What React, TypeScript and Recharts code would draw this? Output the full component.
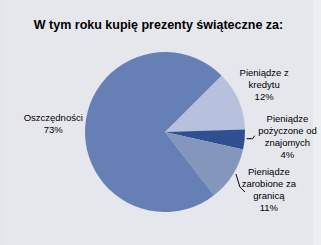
import React from 'react';
import { PieChart, Pie, Cell } from 'recharts';

// Źródła pieniędzy na prezenty (%), kolejność zgodnie z ruchem wskazówek zegara
const names = ['Pieniądze z kredytu', 'Pieniądze pożyczone od znajomych', 'Pieniądze zarobione za granicą', 'Oszczędności'];
const values = [12, 4, 11, 73];
const labelLines = [
  ['Pieniądze z', 'kredytu'],
  ['Pieniądze', 'pożyczone od', 'znajomych'],
  ['Pieniądze', 'zarobione za', 'granicą'],
  ['Oszczędności'],
];
const colors = ['#b7c1dd', '#2f4f91', '#8596bc', '#6680b5'];

const data = names.map((name, i) => ({ name, value: values[i], lines: labelLines[i] }));

// odległość etykiety od środka koła i przesunięcie w pionie
const labelRadius = [108, 123, 123, 112];
const labelShift = [-5, -8, -9, -2];

const RAD = Math.PI / 180;
const FONT = '"Liberation Sans", Arial, sans-serif';

const polar = (cx: number, cy: number, r: number, angle: number) => ({
  x: cx + r * Math.cos(-angle * RAD),
  y: cy + r * Math.sin(-angle * RAD),
});

const renderLabel = (props: any) => {
  const { cx, cy, midAngle, outerRadius, index, payload } = props;
  const lines: string[] = [...payload.lines, `${payload.value}%`];
  const c = polar(cx, cy, labelRadius[index], midAngle);
  const lh = 12;
  const top = c.y + labelShift[index] - ((lines.length - 1) * lh) / 2;

  let leader: React.ReactNode = null;
  if (index === 1) {
    const a = polar(cx, cy, outerRadius + 2, midAngle);
    leader = (
      <polyline
        points={`${a.x},${a.y - 1} ${a.x + 6},${a.y - 1} ${a.x + 8},${a.y - 4}`}
        fill="none"
        stroke="#000"
        strokeWidth={1}
      />
    );
  } else if (index === 2) {
    const a = polar(cx, cy, outerRadius + 4, midAngle);
    leader = (
      <polyline
        points={`${a.x},${a.y - 3} ${a.x + 4},${a.y + 10} ${a.x + 9},${a.y + 15}`}
        fill="none"
        stroke="#000"
        strokeWidth={1}
      />
    );
  }

  return (
    <g key={`lbl-${index}`}>
      {leader}
      <text
        x={c.x}
        y={top}
        textAnchor="middle"
        dominantBaseline="central"
        fontFamily={FONT}
        fontSize={9.5}
        fill="#000"
      >
        {lines.map((t, i) => (
          <tspan key={i} x={c.x} dy={i === 0 ? 0 : lh}>
            {t}
          </tspan>
        ))}
      </text>
    </g>
  );
};

export default function App() {
  return (
    <div
      style={{
        position: 'absolute',
        left: 0,
        top: 0,
        width: 321,
        height: 245,
        background: '#e5e7ec',
        boxSizing: 'border-box',
        borderLeft: '4px solid #e2e4e9',
        borderRight: '8px solid #eceef1',
      }}
    >
      <div
        style={{
          position: 'absolute',
          left: 0,
          right: 0,
          top: 18,
          textAlign: 'center',
          fontFamily: FONT,
          fontWeight: 'bold',
          fontSize: 12.5,
          color: '#000',
        }}
      >
        W tym roku kupię prezenty świąteczne za:
      </div>
      <div style={{ position: 'absolute', left: -4, top: 0 }}>
        <PieChart width={321} height={245}>
          <Pie
            data={data}
            dataKey="value"
            nameKey="name"
            cx={160}
            cy={127}
            outerRadius={80}
            startAngle={45}
            endAngle={-315}
            stroke="none"
            label={renderLabel}
            labelLine={false}
            isAnimationActive={false}
          >
            {data.map((_e, i) => (
              <Cell key={`cell-${i}`} fill={colors[i]} />
            ))}
          </Pie>
        </PieChart>
      </div>
    </div>
  );
}
